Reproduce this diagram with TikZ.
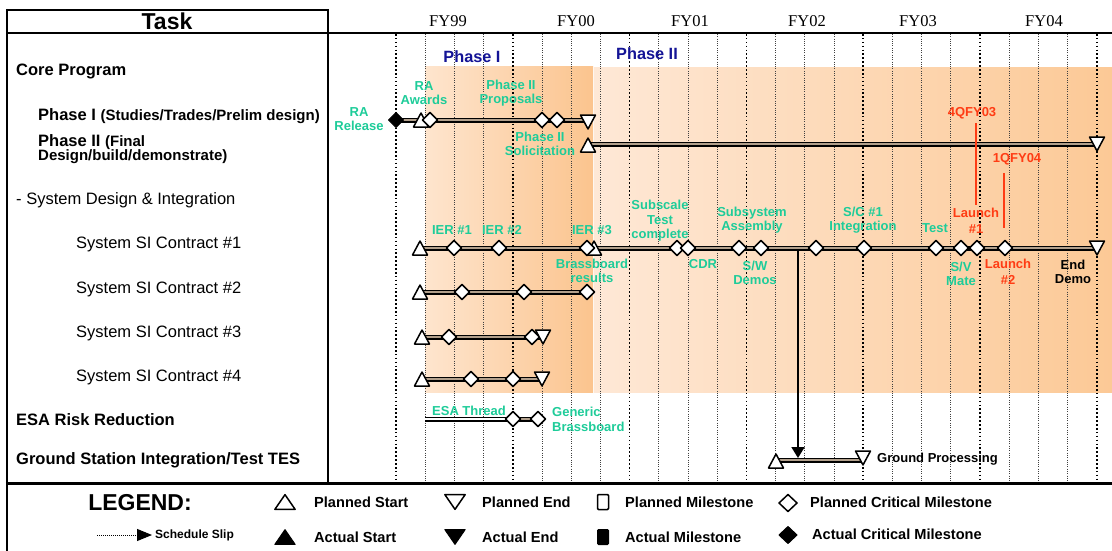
\documentclass[tikz,border=0pt]{standalone}
\usepackage{fontspec}
\setmainfont{Liberation Sans}
\newfontfamily\fyfont{Liberation Serif}
\usetikzlibrary{arrows.meta}
\newcommand\subfnt{\bfseries\fontsize{15}{17}\selectfont}
\definecolor{lblgreen}{RGB}{30,204,153}
\definecolor{lblred}{RGB}{255,60,20}
\definecolor{phblue}{RGB}{20,20,150}
\definecolor{orAlight}{RGB}{254,229,206}
\definecolor{orAdark}{RGB}{251,196,142}
\definecolor{orBlight}{RGB}{254,232,214}
\definecolor{orBdark}{RGB}{252,201,150}
\definecolor{barfill}{RGB}{178,160,140}
\tikzset{
  pics/pstart/.style={code={\draw[mk] (-7.5,7) -- (0,-7) -- (7.5,7) -- cycle;}},
  pics/pend/.style={code={\draw[mk] (-7.5,-7) -- (0,7) -- (7.5,-7) -- cycle;}},
  pics/pdia/.style={code={\draw[mk] (-7.5,0) -- (0,-7.5) -- (7.5,0) -- (0,7.5) -- cycle;}},
  pics/pms/.style={code={\draw[mk,rounded corners=1pt] (-5.5,-7.5) rectangle (5.5,7.5);}},
  pics/astart/.style={code={\draw[mka] (-7.5,7) -- (0,-7) -- (7.5,7) -- cycle;}},
  pics/aend/.style={code={\draw[mka] (-7.5,-7) -- (0,7) -- (7.5,-7) -- cycle;}},
  pics/adia/.style={code={\draw[mka] (-7.5,0) -- (0,-7.5) -- (7.5,0) -- (0,7.5) -- cycle;}},
  pics/ams/.style={code={\draw[mka,rounded corners=1pt] (-5.5,-7.5) rectangle (5.5,7.5);}},
}
\begin{document}
\begin{tikzpicture}[x=1pt,y=-1pt,
  mk/.style={draw=black, fill=white, line width=1.5pt, line join=round},
  mka/.style={draw=black, fill=black, line width=1pt, line join=round},
  bar/.style={draw=black, line width=1.1pt, double=barfill, double distance=2.8pt},
  wbar/.style={draw=black, line width=1.1pt, double=white, double distance=2.8pt},
  yeargrid/.style={line width=1.6pt, dash pattern=on 1.6pt off 2.3pt, black},
  qgrid/.style={line width=0.7pt, dash pattern=on 1pt off 1.3pt, black!75},
  rowb/.style={anchor=west, inner sep=0pt, font=\bfseries\fontsize{16.5}{19}\selectfont},
  rowr/.style={anchor=west, inner sep=0pt, font=\fontsize{16.5}{19}\selectfont},
  lbl/.style={text=lblgreen, inner sep=0pt, align=center, font=\bfseries\fontsize{13}{14.5}\selectfont},
  rlbl/.style={text=lblred, inner sep=0pt, align=center, font=\bfseries\fontsize{13}{15.5}\selectfont},
  blbl/.style={text=black, inner sep=0pt, align=center, font=\bfseries\fontsize{13}{14.5}\selectfont},
  phlbl/.style={text=phblue, inner sep=0pt, font=\bfseries\fontsize{16.3}{19}\selectfont},
  fylbl/.style={inner sep=0pt, font=\fyfont\fontsize{16.5}{19}\selectfont},
  leg/.style={anchor=west, inner sep=0pt, font=\bfseries\fontsize{14.6}{17}\selectfont},
  redline/.style={draw=lblred, line width=1.6pt},
]
\useasboundingbox (0,0) rectangle (1112,551);
\fill[white] (0,0) rectangle (1112,551);

% shaded phases
\shade[left color=orAlight, right color=orAdark] (425,67) rectangle (593,392);
\shade[left color=orBlight, right color=orBdark] (594,68) rectangle (1112,392);

% grid
\foreach \k in {0,...,24}{
  \pgfmathsetmacro\gx{396+29.2*\k}
  \pgfmathtruncatemacro\m{mod(\k,4)}
  \ifnum\m=0 \draw[yeargrid] (\gx,34) -- (\gx,482); \else \draw[qgrid] (\gx,34) -- (\gx,482); \fi
}

% frame
\draw[line width=2pt] (7,10) rectangle (328,33);
\draw[line width=2.5pt] (7,33) -- (1112,33);
\draw[line width=2.5pt] (7,9) -- (7,551);
\draw[line width=2pt] (328,33) -- (328,483);
\draw[line width=3pt] (5.75,483) -- (1112,483);

% header labels
\node[inner sep=0pt, font=\bfseries\fontsize{23}{26}\selectfont] (task) at (167,21) {Task};
\node[fylbl] (fy99) at (448,21) {FY99};
\node[fylbl] (fy00) at (576,21) {FY00};
\node[fylbl] (fy01) at (690,21) {FY01};
\node[fylbl] (fy02) at (807,21) {FY02};
\node[fylbl] (fy03) at (918,21) {FY03};
\node[fylbl] (fy04) at (1044,21) {FY04};
\node[phlbl] (ph1lbl) at (472,57) {Phase I};
\node[phlbl] (ph2lbl) at (647,54) {Phase II};

% task column
\node[rowb] (core) at (16,71) {Core Program};
\node[rowb] (ph1) at (38,116) {Phase I {\subfnt (Studies/Trades/Prelim design)}};
\node[rowb] (ph2a) at (38,142) {Phase II {\subfnt (Final}};
\node[rowb, font=\subfnt] (ph2b) at (38,157) {Design/build/demonstrate)};
\node[rowr] (sdi) at (16,200) {- System Design \& Integration};
\node[rowr] (si1) at (76,244) {System SI Contract \#1};
\node[rowr] (si2) at (76,289) {System SI Contract \#2};
\node[rowr] (si3) at (76,333) {System SI Contract \#3};
\node[rowr] (si4) at (76,377) {System SI Contract \#4};
\node[rowb] (esa) at (16,420) {ESA Risk Reduction};
\node[rowb] (gs) at (16,460) {Ground Station Integration/Test TES};

% coordinates of markers
\coordinate (p1rel) at (396,120);
\coordinate (p1s) at (421,120);
\coordinate (p1aw) at (430,120);
\coordinate (p1m1) at (542,120);
\coordinate (p1m2) at (557,120);
\coordinate (p1e) at (588,120);
\coordinate (p2s) at (588,144);
\coordinate (p2e) at (1097,144);
\coordinate (s1s) at (420,248);
\coordinate (s1m1) at (454,248);
\coordinate (s1m2) at (499,248);
\coordinate (s1t) at (594,248);
\coordinate (s1m3) at (587,248);
\coordinate (s1m4) at (677,248);
\coordinate (s1m5) at (688,248);
\coordinate (s1m6) at (739,248);
\coordinate (s1m7) at (761,248);
\coordinate (s1slip) at (798,249);
\coordinate (s1m8) at (816,248);
\coordinate (s1m9) at (864,248);
\coordinate (s1m10) at (936,248);
\coordinate (s1m11) at (961,248);
\coordinate (s1m12) at (977,248);
\coordinate (s1m13) at (1005,248);
\coordinate (s1e) at (1097,248);
\coordinate (s2s) at (420,292);
\coordinate (s2m1) at (462,292);
\coordinate (s2m2) at (524,292);
\coordinate (s2m3) at (587,292);
\coordinate (s3s) at (422,337);
\coordinate (s3m1) at (449,337);
\coordinate (s3m2) at (532,337);
\coordinate (s3e) at (543,337);
\coordinate (s4s) at (422,379);
\coordinate (s4m1) at (471,379);
\coordinate (s4m2) at (513,379);
\coordinate (s4e) at (542,379);
\coordinate (e0) at (425,419);
\coordinate (em1) at (513,419);
\coordinate (em2) at (538,419);
\coordinate (gst) at (776,460);
\coordinate (gen) at (863,460);
\coordinate (gslip) at (798,458);

% bars
\draw[bar] (p1rel) -- (p1s);
\draw[bar] (p1s) -- (p1e);
\draw[bar] (p2s) -- (p2e);
\draw[bar] (s1s) -- (s1e);
\draw[bar] (s2s) -- (s2m3);
\draw[bar] (s3s) -- (s3e);
\draw[bar] (s4s) -- (s4e);
\draw[wbar] (e0) -- (em1);
\draw[bar] (em1) -- (em2);
\draw[bar] (gst) -- (gen);

% slip connector
\draw[line width=1.8pt, -{Triangle[length=11pt,width=13pt]}] (s1slip) -- (gslip);

% red launch lines
\coordinate (r1a) at (976,123);
\coordinate (r1b) at (976,205);
\coordinate (r2a) at (1004,173);
\coordinate (r2b) at (1004,228);
\draw[redline] (r1a) -- (r1b);
\draw[redline] (r2a) -- (r2b);

% markers
\pic at (p1rel) {adia};
\pic at (p1s) {pstart};
\pic at (p1aw) {pdia};
\pic at (p1m1) {pdia};
\pic at (p1m2) {pdia};
\pic at ([yshift=-2pt]p1e) {pend};
\pic at ([yshift=-1pt]p2s) {pstart};
\pic at (p2e) {pend};
\pic at (s1s) {pstart};
\pic at (s1m1) {pdia};
\pic at (s1m2) {pdia};
\pic at (s1t) {pstart};
\pic at (s1m3) {pdia};
\pic at (s1m4) {pdia};
\pic at (s1m5) {pdia};
\pic at (s1m6) {pdia};
\pic at (s1m7) {pdia};
\pic at (s1m8) {pdia};
\pic at (s1m9) {pdia};
\pic at (s1m10) {pdia};
\pic at (s1m11) {pdia};
\pic at (s1m12) {pdia};
\pic at (s1m13) {pdia};
\pic at (s1e) {pend};
\pic at (s2s) {pstart};
\pic at (s2m1) {pdia};
\pic at (s2m2) {pdia};
\pic at (s2m3) {pdia};
\pic at (s3s) {pstart};
\pic at (s3m1) {pdia};
\pic at (s3m2) {pdia};
\pic at (s3e) {pend};
\pic at (s4s) {pstart};
\pic at (s4m1) {pdia};
\pic at (s4m2) {pdia};
\pic at (s4e) {pend};
\pic at (em1) {pdia};
\pic at (em2) {pdia};
\pic at ([yshift=-1pt]gst) {pstart};
\pic at ([yshift=2pt]gen) {pend};

% green labels
\node[lbl] (lrarel) at (359,119) {RA\\Release};
\node[lbl] (lraaw) at (424,93) {RA\\Awards};
\node[lbl] (lprop) at (511,93) {Phase II\\Proposals};
\node[lbl] (lsol) at (540,144) {Phase II\\Solicitation};
\node[lbl] (lier1) at (452,230) {IER \#1};
\node[lbl] (lier2) at (502,230) {IER \#2};
\node[lbl] (lier3) at (592,230) {IER \#3};
\node[lbl] (lsub) at (660,221) {Subscale\\Test\\complete};
\node[lbl] (lcdr) at (703,264) {CDR};
\node[lbl] (lbrass) at (592,271) {Brassboard\\results};
\node[lbl] (lsubsys) at (752,220) {Subsystem\\Assembly};
\node[lbl] (lsw) at (755,273) {S/W\\Demos};
\node[lbl] (lsc) at (863,220) {S/C \#1\\Integration};
\node[lbl] (ltest) at (935,228) {Test};
\node[lbl] (lsv) at (961,274) {S/V\\Mate};
\node[lbl] (lesa) at (469,411) {ESA Thread};
\node[lbl, anchor=west, align=left] (lgen) at (552,419.5) {Generic\\Brassboard};

% red labels
\node[rlbl] (l4q) at (972,113) {4QFY03};
\node[rlbl] (l1q) at (1017,159) {1QFY04};
\node[rlbl] (llau1) at (976,221) {Launch\\\#1};
\node[rlbl] (llau2) at (1008,272) {Launch\\\#2};

% black labels
\node[blbl] (lend) at (1073,272) {End\\Demo};
\node[blbl, anchor=west] (lgp) at (877,459) {Ground Processing};

% legend
\node[inner sep=0pt, font=\bfseries\fontsize{23}{26}\selectfont] (legend) at (140,503) {LEGEND:};
\coordinate (sl0) at (97,535);
\coordinate (sl1) at (152,535);
\draw[line width=1pt, dash pattern=on 1pt off 1pt, -{Triangle[length=15pt,width=12pt]}] (sl0) -- (sl1);
\node[anchor=west, inner sep=0pt, font=\bfseries\fontsize{12}{14}\selectfont] (lslip) at (155,535) {Schedule Slip};

\coordinate (lg1) at (285,502);
\coordinate (lg2) at (455,502);
\coordinate (lg3) at (603,502);
\coordinate (lg4) at (788,503);
\coordinate (lg5) at (285,537);
\coordinate (lg6) at (455,537);
\coordinate (lg7) at (603,537);
\coordinate (lg8) at (788,535);
\pic[xscale=1.35, yscale=1.05] at (lg1) {pstart};
\pic[xscale=1.35, yscale=1.05] at (lg2) {pend};
\pic at (lg3) {pms};
\pic[xscale=1.2, yscale=1.13] at (lg4) {pdia};
\pic[xscale=1.35, yscale=1.05] at (lg5) {astart};
\pic[xscale=1.35, yscale=1.05] at (lg6) {aend};
\pic at (lg7) {ams};
\pic[xscale=1.2, yscale=1.13] at (lg8) {adia};
\node[leg] (tps) at (314,502) {Planned Start};
\node[leg] (tpe) at (482,502) {Planned End};
\node[leg] (tpm) at (625,502) {Planned Milestone};
\node[leg] (tpc) at (810,502) {Planned Critical Milestone};
\node[leg] (tas) at (314,537) {Actual Start};
\node[leg] (tae) at (482,537) {Actual End};
\node[leg] (tam) at (625,537) {Actual Milestone};
\node[leg] (tac) at (812,534) {Actual Critical Milestone};
\end{tikzpicture}
\end{document}
